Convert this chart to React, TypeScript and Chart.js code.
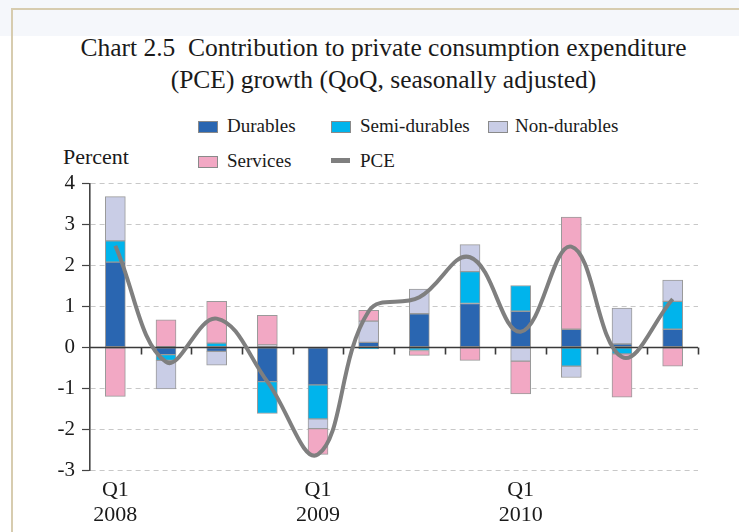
import React, { useEffect, useRef } from "react";
import { Chart, registerables } from "chart.js";

Chart.register(...registerables);

const categories = [
  "Q1 2008", "Q2 2008", "Q3 2008", "Q4 2008",
  "Q1 2009", "Q2 2009", "Q3 2009", "Q4 2009",
  "Q1 2010", "Q2 2010", "Q3 2010", "Q4 2010",
];
const xTickLabels: (string | string[])[] = [
  ["Q1", "2008"], "", "", "",
  ["Q1", "2009"], "", "", "",
  ["Q1", "2010"], "", "", "",
];
const durables = [2.08, -0.18, -0.1, -0.84, -0.92, 0.12, 0.82, 1.07, 0.88, 0.44, 0.08, 0.44];
const semiDurables = [0.52, -0.14, 0.1, -0.78, -0.83, -0.04, -0.08, 0.78, 0.63, -0.46, -0.16, 0.68];
const nonDurables = [1.08, -0.7, -0.34, 0.06, -0.24, 0.52, 0.6, 0.66, -0.34, -0.28, 0.88, 0.52];
const services = [-1.2, 0.67, 1.02, 0.72, -0.63, 0.26, -0.12, -0.32, -0.8, 2.74, -1.06, -0.46];
const pce = [2.48, -0.36, 0.7, -0.84, -2.62, 0.88, 1.22, 2.2, 0.38, 2.46, -0.24, 1.18];
const yMin = -3;
const yMax = 4;

const COLORS = {
  durables: "#2a66b1",
  semi: "#00b4ec",
  non: "#c9cde6",
  services: "#f2a8c4",
  pce: "#7f7f7f",
  barBorder: "#9a9a9a",
};

const SERIF = "'Liberation Serif', 'DejaVu Serif', serif";

export default function App() {
  const canvasRef = useRef<HTMLCanvasElement | null>(null);

  useEffect(() => {
    const canvas = canvasRef.current;
    if (!canvas) return;

    const zeroAxisPlugin = {
      id: "zeroAxis",
      beforeDatasetDraw(chart: any, args: any) {
        const ds = chart.data.datasets[args.index];
        if (ds.type !== "line") return;
        const { ctx, chartArea, scales } = chart;
        const y0 = Math.round(scales.y.getPixelForValue(0)) + 0.5;
        ctx.save();
        ctx.strokeStyle = "#3a3a3a";
        ctx.lineWidth = 1.6;
        ctx.beginPath();
        ctx.moveTo(chartArea.left, y0);
        ctx.lineTo(chartArea.right, y0);
        const n = categories.length;
        const w = (chartArea.right - chartArea.left) / n;
        for (let k = 1; k <= n; k++) {
          const x = Math.round(chartArea.left + w * k) + 0.5;
          ctx.moveTo(x, y0);
          ctx.lineTo(x, y0 + 7);
        }
        ctx.stroke();
        ctx.restore();
      },
    };

    const barDs = (label: string, data: number[], color: string) => ({
      type: "bar" as const,
      label,
      data,
      backgroundColor: color,
      borderColor: COLORS.barBorder,
      borderWidth: 1,
      borderSkipped: false,
      barThickness: 20,
      stack: "a",
      order: 1,
    });

    const chart = new Chart(canvas, {
      data: {
        labels: categories,
        datasets: [
          barDs("Durables", durables, COLORS.durables),
          barDs("Semi-durables", semiDurables, COLORS.semi),
          barDs("Non-durables", nonDurables, COLORS.non),
          barDs("Services", services, COLORS.services),
          {
            type: "line" as const,
            label: "PCE",
            data: pce,
            borderColor: COLORS.pce,
            borderWidth: 4,
            pointRadius: 0,
            tension: 0.4,
            fill: false,
            stack: "pce",
            order: 0,
          },
        ],
      },
      options: {
        responsive: false,
        animation: false,
        layout: { padding: { left: 0, right: 41, top: 8, bottom: 0 } },
        plugins: {
          legend: { display: false },
          title: { display: false },
          tooltip: { enabled: false },
        },
        scales: {
          x: {
            stacked: true,
            offset: true,
            grid: { display: false, drawTicks: false },
            border: { display: false },
            afterFit: (scale: any) => {
              scale.height = 62;
            },
            ticks: {
              autoSkip: false,
              maxRotation: 0,
              padding: 8,
              color: "#1a1a1a",
              font: { family: SERIF, size: 22, lineHeight: 1.14 },
              callback: (_v: any, i: number) => xTickLabels[i],
            },
          },
          y: {
            stacked: true,
            min: yMin,
            max: yMax,
            afterFit: (scale: any) => {
              scale.width = 90;
            },
            ticks: {
              stepSize: 1,
              padding: 7,
              color: "#1a1a1a",
              font: { family: SERIF, size: 21 },
            },
            grid: {
              color: (ctx: any) => (ctx.tick && ctx.tick.value === 0 ? "rgba(0,0,0,0)" : "#c8c8c8"),
              lineWidth: 1,
              drawTicks: true,
              tickLength: 8,
              tickColor: "#444",
              tickWidth: 1.2,
              tickBorderDash: [],
            },
            border: { display: true, color: "#444", width: 1.6, dash: [5, 4] },
          },
        },
      },
      plugins: [zeroAxisPlugin],
    });

    return () => chart.destroy();
  }, []);

  const legendText: React.CSSProperties = {
    position: "absolute",
    fontFamily: SERIF,
    fontSize: 19,
    color: "#1a1a1a",
    lineHeight: "22px",
    whiteSpace: "nowrap",
  };
  const box = (left: number, top: number, color: string): React.CSSProperties => ({
    position: "absolute",
    left,
    top,
    width: 18,
    height: 10,
    background: color,
    border: "1px solid #8a8a8a",
  });

  return (
    <div
      style={{
        position: "absolute",
        left: 0,
        top: 0,
        width: 739,
        height: 532,
        background: "#ffffff",
        overflow: "hidden",
      }}
    >
      <div style={{ position: "absolute", left: 0, top: 0, width: 739, height: 36, background: "#f5f7fb" }} />
      <div style={{ position: "absolute", left: 11, top: 8, width: 728, height: 2, background: "#d7ccaf" }} />
      <div style={{ position: "absolute", left: 11, top: 8, width: 2, height: 524, background: "#d7ccaf" }} />
      <div
        style={{
          position: "absolute",
          left: 14,
          top: 32,
          width: 739,
          textAlign: "center",
          fontFamily: SERIF,
          fontSize: 25.5,
          lineHeight: "32px",
          color: "#1a1a1a",
        }}
      >
        Chart 2.5&nbsp; Contribution to private consumption expenditure
        <br />
        (PCE) growth (QoQ, seasonally adjusted)
      </div>

      <div style={box(198, 121, COLORS.durables)} />
      <div style={{ ...legendText, left: 227, top: 115 }}>Durables</div>
      <div style={box(331, 121, COLORS.semi)} />
      <div style={{ ...legendText, left: 360, top: 115 }}>Semi-durables</div>
      <div style={box(488, 121, COLORS.non)} />
      <div style={{ ...legendText, left: 515, top: 115 }}>Non-durables</div>
      <div style={box(198, 156, COLORS.services)} />
      <div style={{ ...legendText, left: 227, top: 150 }}>Services</div>
      <div style={{ position: "absolute", left: 331, top: 158, width: 19, height: 5, background: COLORS.pce }} />
      <div style={{ ...legendText, left: 360, top: 150 }}>PCE</div>

      <div style={{ ...legendText, left: 63, top: 145, fontSize: 22, lineHeight: "24px" }}>Percent</div>

      <canvas
        ref={canvasRef}
        width={739}
        height={368}
        style={{ position: "absolute", left: 0, top: 164, width: 739, height: 368 }}
      />
    </div>
  );
}
